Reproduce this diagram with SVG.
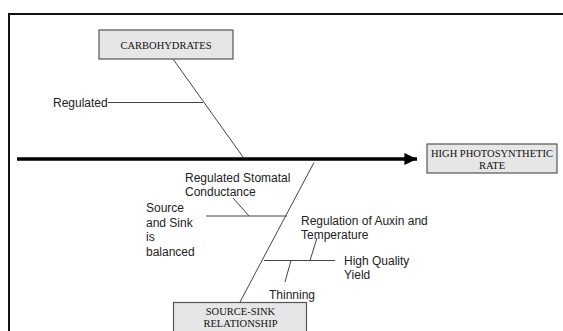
<svg xmlns="http://www.w3.org/2000/svg" width="563" height="331" viewBox="0 0 563 331">
<style>
.box{fill:#e6e6e6;stroke:#555;stroke-width:1.2}
.bt{font-family:"Liberation Serif",serif;font-size:10.5px;fill:#111;text-anchor:middle}
.lt{font-family:"Liberation Sans",Arial,sans-serif;font-size:12px;fill:#222}
.ln{stroke:#444;stroke-width:1;fill:none}
</style>
<defs>
<marker id="ah" markerWidth="4" markerHeight="4" refX="3.6" refY="2" orient="auto" markerUnits="strokeWidth">
<path d="M0,0.3 L3.6,2 L0,3.7 Z" fill="#000"/>
</marker>
</defs>
<rect width="563" height="331" fill="#fff"/>
<path d="M9,340 V14 H570" fill="none" stroke="#111" stroke-width="2"/>
<g id="connectors">
<line x1="17" y1="159" x2="417" y2="159" stroke="#000" stroke-width="3.5" marker-end="url(#ah)"/>
<line class="ln" x1="173" y1="59" x2="243" y2="157"/>
<line class="ln" x1="108" y1="102.5" x2="203" y2="102.5"/>
<line class="ln" x1="314" y1="162.5" x2="240" y2="302"/>
<line class="ln" x1="206" y1="216" x2="287" y2="216"/>
<line class="ln" x1="249" y1="216" x2="233" y2="198"/>
<line class="ln" x1="264" y1="260.5" x2="335" y2="260.5"/>
<line class="ln" x1="310" y1="260.5" x2="317" y2="238"/>
<line class="ln" x1="291" y1="260.5" x2="285" y2="282"/>
</g>
<g id="carbohydrates">
<rect class="box" x="99" y="30" width="134" height="29"/>
<text class="bt" x="166" y="49">CARBOHYDRATES</text>
</g>
<g id="high-photosynthetic-rate">
<rect class="box" x="427" y="144" width="130" height="29"/>
<text class="bt" x="492" y="157">HIGH PHOTOSYNTHETIC</text>
<text class="bt" x="492" y="168.5">RATE</text>
</g>
<g id="source-sink">
<rect class="box" x="173.5" y="302.5" width="133" height="40"/>
<text class="bt" x="240.5" y="315">SOURCE-SINK</text>
<text class="bt" x="240.5" y="327">RELATIONSHIP</text>
</g>
<g id="regulated">
<text class="lt" x="53" y="106.5">Regulated</text>
</g>
<g id="stomatal">
<text class="lt" x="185" y="182">Regulated Stomatal</text>
<text class="lt" x="185" y="196">Conductance</text>
</g>
<g id="source-sink-balanced">
<text class="lt" x="146" y="212">Source</text>
<text class="lt" x="146" y="227">and Sink</text>
<text class="lt" x="146" y="241">is</text>
<text class="lt" x="146" y="256">balanced</text>
</g>
<g id="auxin">
<text class="lt" x="301" y="224.5">Regulation of Auxin and</text>
<text class="lt" x="301" y="239">Temperature</text>
</g>
<g id="yield">
<text class="lt" x="344" y="264.5">High Quality</text>
<text class="lt" x="344" y="279">Yield</text>
</g>
<g id="thinning">
<text class="lt" x="269" y="298.5">Thinning</text>
</g>
</svg>
